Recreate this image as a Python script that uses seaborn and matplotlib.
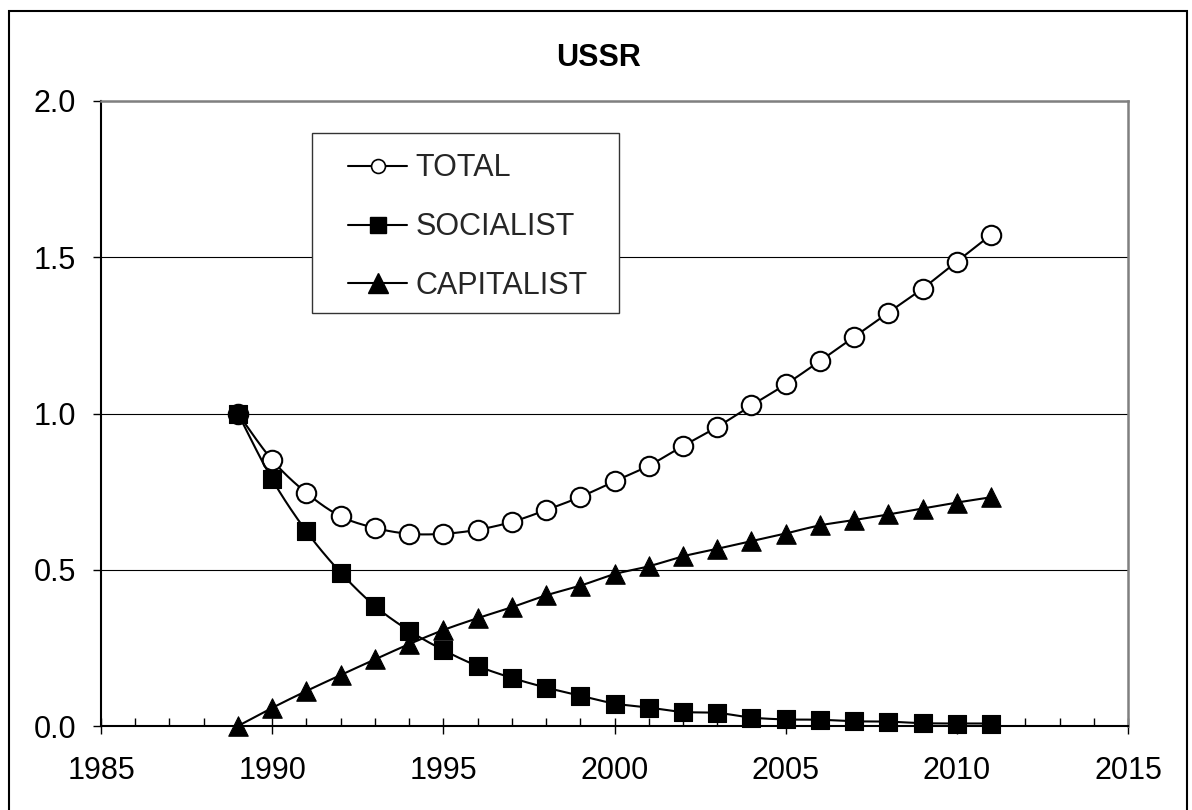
import numpy as np
import matplotlib
matplotlib.use("Agg")
import matplotlib.pyplot as plt
import seaborn as sns
from matplotlib.lines import Line2D
from matplotlib.patches import Rectangle
from matplotlib.ticker import FixedLocator, MultipleLocator

# ---- data -------------------------------------------------------------
years = list(range(1989, 2012))
total = [1.000, 0.851, 0.746, 0.671, 0.634, 0.615, 0.615, 0.628, 0.653, 0.691,
         0.733, 0.783, 0.833, 0.896, 0.957, 1.026, 1.093, 1.168, 1.245, 1.323,
         1.400, 1.486, 1.572]
socialist = [1.000, 0.789, 0.623, 0.491, 0.384, 0.305, 0.243, 0.192, 0.154, 0.123,
             0.097, 0.072, 0.059, 0.045, 0.042, 0.027, 0.021, 0.020, 0.015, 0.014,
             0.009, 0.008, 0.008]
capitalist = [0.000, 0.058, 0.112, 0.163, 0.213, 0.262, 0.307, 0.345, 0.380, 0.418,
              0.449, 0.486, 0.511, 0.543, 0.567, 0.592, 0.616, 0.642, 0.659, 0.677,
              0.696, 0.715, 0.732]
series_names = ["TOTAL", "SOCIALIST", "CAPITALIST"]
title = "USSR"
x_ticks = [1985, 1990, 1995, 2000, 2005, 2010, 2015]
y_ticks = [0.0, 0.5, 1.0, 1.5, 2.0]
y_tick_labels = ["0.0", "0.5", "1.0", "1.5", "2.0"]


def smooth_curve(xs, ys, n=24):
    """Catmull-Rom style Bezier smoothing through every data point."""
    x = np.asarray(xs, float)
    y = np.asarray(ys, float)
    px = np.concatenate([[x[0]], x, [x[-1]]])
    py = np.concatenate([[y[0]], y, [y[-1]]])
    t = np.linspace(0.0, 1.0, n, endpoint=False)[:, None]
    pts = []
    for i in range(len(x) - 1):
        p0 = np.array([px[i], py[i]])
        p1 = np.array([px[i + 1], py[i + 1]])
        p2 = np.array([px[i + 2], py[i + 2]])
        p3 = np.array([px[i + 3], py[i + 3]])
        c1 = p1 + (p2 - p0) / 6.0
        c2 = p2 - (p3 - p1) / 6.0
        seg = ((1 - t) ** 3) * p1 + 3 * ((1 - t) ** 2) * t * c1 \
            + 3 * (1 - t) * t ** 2 * c2 + t ** 3 * p2
        pts.append(seg)
    pts.append(np.array([[x[-1], y[-1]]]))
    pts = np.vstack(pts)
    return pts[:, 0], pts[:, 1]


sns.set_theme(style="white")
plt.rcParams["font.family"] = ["Liberation Sans", "DejaVu Sans"]

fig = plt.figure(figsize=(11.92, 8.10), dpi=100)
ax = fig.add_axes([101 / 1192, 84 / 810, 1027 / 1192, 625 / 810])

styles = [
    dict(marker="o", s=14 ** 2, facecolor="white", lw=1.5),
    dict(marker="s", s=12.5 ** 2, facecolor="black", lw=0.8),
    dict(marker="^", s=14 ** 2, facecolor="black", lw=0.8),
]
values = [total, socialist, capitalist]

for k, (vals, st) in enumerate(zip(values, styles)):
    sx, sy = smooth_curve(years, vals)
    sns.lineplot(x=sx, y=sy, sort=False, estimator=None, color="black",
                 linewidth=1.5, ax=ax, legend=False, zorder=3 + 2 * k)
    sns.scatterplot(x=years, y=vals, marker=st["marker"], s=st["s"],
                    facecolor=st["facecolor"], edgecolor="black",
                    linewidth=st["lw"], ax=ax, legend=False,
                    zorder=4 + 2 * k, clip_on=False)

ax.set_xlim(1985, 2015)
ax.set_ylim(0, 2)
ax.xaxis.set_major_locator(FixedLocator(x_ticks))
ax.xaxis.set_minor_locator(MultipleLocator(1))
ax.set_xticks(x_ticks)
ax.set_xticklabels([str(v) for v in x_ticks])
ax.set_yticks(y_ticks)
ax.set_yticklabels(y_tick_labels)
ax.set_xlabel("")
ax.set_ylabel("")

ax.tick_params(axis="x", which="major", direction="inout", length=12, width=1,
               color="black", bottom=True, top=False, labelsize=22, pad=15.5,
               labelcolor="black")
ax.tick_params(axis="x", which="minor", direction="in", length=6, width=1,
               color="black", bottom=True, top=False)
ax.tick_params(axis="y", which="major", direction="out", length=6, width=1,
               color="black", left=True, right=False, labelsize=22, pad=12,
               labelcolor="black")

ax.yaxis.grid(True, color="black", linewidth=0.8)
ax.xaxis.grid(False)
ax.set_axisbelow(True)

for side in ("left", "bottom"):
    ax.spines[side].set_color("black")
    ax.spines[side].set_linewidth(1.5)
for side in ("top", "right"):
    ax.spines[side].set_color("#808080")
    ax.spines[side].set_linewidth(1.8)

# legend box
ax.add_patch(Rectangle((0.2055, 0.6608), 0.2989, 0.288, transform=ax.transAxes,
                       facecolor="white", edgecolor="#333333", linewidth=1.0,
                       zorder=20))
handles = [
    Line2D([], [], color="black", lw=1.5, marker="o", markersize=10,
           markerfacecolor="white", markeredgecolor="black", markeredgewidth=1.2),
    Line2D([], [], color="black", lw=1.5, marker="s", markersize=11,
           markerfacecolor="black", markeredgecolor="black"),
    Line2D([], [], color="black", lw=1.5, marker="^", markersize=15,
           markerfacecolor="black", markeredgecolor="black"),
]
leg = ax.legend(handles, series_names, loc="upper left",
                bbox_to_anchor=(0.2405, 0.916), frameon=False, fontsize=22,
                handlelength=1.94, handletextpad=0.27, labelspacing=0.94,
                borderpad=0, borderaxespad=0)
leg.set_zorder(21)

fig.text(0.5025, 0.928, title, ha="center", va="center", fontsize=22,
         fontweight="bold", color="black")

# outer chart border
fig.add_artist(Rectangle((9 / 1192, -4 / 810), 1178 / 1192, 803 / 810,
                         transform=fig.transFigure, fill=False,
                         edgecolor="black", linewidth=1.5))

fig.savefig("out.png", dpi=100, facecolor="white")
